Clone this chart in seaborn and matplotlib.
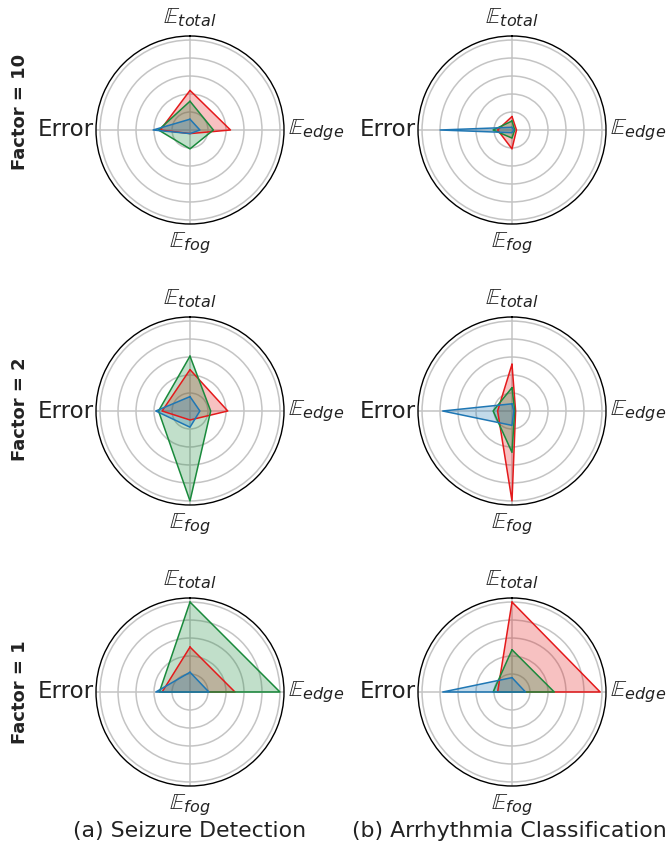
import numpy as np
import pandas as pd
import matplotlib
matplotlib.use("Agg")
import matplotlib.pyplot as plt
import seaborn as sns

sns.set_style("whitegrid")
plt.rcParams['font.family'] = ['DejaVu Sans']
plt.rcParams['mathtext.fontset'] = 'dejavusans'

# axis order, clockwise from the top
axis_labels = [r'$\mathbb{E}_{total}$', r'$\mathbb{E}_{edge}$', r'$\mathbb{E}_{fog}$', 'Error']
row_labels = ['Factor = 10', 'Factor = 2', 'Factor = 1']
col_titles = ['(a) Seizure Detection', '(b) Arrhythmia Classification']
series_colors = ['#e41a1c', '#1a8a3c', '#1f77b4']  # red, green, blue

# values per panel: [E_total, E_edge, E_fog, Error] for red, green, blue
seizure_f10 = [[0.44, 0.45, 0.04, 0.33],
               [0.32, 0.26, 0.21, 0.35],
               [0.12, 0.11, 0.04, 0.41]]
seizure_f2 = [[0.46, 0.42, 0.10, 0.31],
              [0.61, 0.23, 1.00, 0.35],
              [0.16, 0.11, 0.18, 0.38]]
seizure_f1 = [[0.50, 0.50, 0.00, 0.31],
              [1.00, 1.00, 0.00, 0.34],
              [0.22, 0.21, 0.00, 0.38]]
arrhythmia_f10 = [[0.15, 0.05, 0.21, 0.16],
                  [0.10, 0.03, 0.09, 0.21],
                  [0.03, 0.02, 0.03, 0.80]]
arrhythmia_f2 = [[0.52, 0.04, 1.00, 0.16],
                 [0.26, 0.03, 0.46, 0.21],
                 [0.08, 0.02, 0.16, 0.77]]
arrhythmia_f1 = [[1.00, 0.98, 0.00, 0.16],
                 [0.47, 0.47, 0.00, 0.21],
                 [0.16, 0.15, 0.00, 0.77]]

panels = [[seizure_f10, arrhythmia_f10],
          [seizure_f2, arrhythmia_f2],
          [seizure_f1, arrhythmia_f1]]

fig = plt.figure(figsize=(6.69, 8.48), dpi=100)

W, H = 669, 848
col_cx = [190, 512]
row_cy = [130, 411, 692]
row_label_y = [112, 409, 692]
rad = 94
# where each axis name sits, in radial units, and how it is anchored
label_r = [1.25, 1.085, 1.265, 1.065]
label_ha = ['center', 'left', 'center', 'right']

angles = np.linspace(0, 2 * np.pi, len(axis_labels), endpoint=False)
closed = np.append(angles, 2 * np.pi)

for i, row in enumerate(panels):
    for j, data in enumerate(row):
        left = (col_cx[j] - rad) / W
        bottom = 1 - (row_cy[i] + rad) / H
        ax = fig.add_axes([left, bottom, 2 * rad / W, 2 * rad / H], polar=True)
        ax.set_theta_offset(np.pi / 2)
        ax.set_theta_direction(-1)
        for vals, c in zip(data, series_colors):
            r = np.append(vals, vals[0])
            df = pd.DataFrame({'theta': closed, 'r': r})
            ax.fill(df['theta'], df['r'], color=c, alpha=0.27, linewidth=0)
            sns.lineplot(data=df, x='theta', y='r', sort=False, estimator=None,
                         color=c, linewidth=1.1, ax=ax)
        ax.set_xlabel('')
        ax.set_ylabel('')
        ax.set_ylim(0, 1.045)
        ax.set_yticks([0.2, 0.4, 0.6, 0.8, 1.0])
        ax.set_yticklabels(['0.2', '0.4', '0.6', '0.8', '1.0'], color='white', fontsize=8)
        ax.set_rlabel_position(22.5)
        ax.set_xticks(angles)
        ax.set_xticklabels([])
        for a, lab, lr, ha in zip(angles, axis_labels, label_r, label_ha):
            ax.text(a, lr, lab, fontsize=16.5, color='#222222', ha=ha, va='center')
        ax.grid(True, color='#c4c4c4', linewidth=1.1)
        ax.spines['polar'].set_color('black')
        ax.spines['polar'].set_linewidth(1.0)

for i, lab in enumerate(row_labels):
    fig.text(20 / W, 1 - row_label_y[i] / H, lab, rotation=90, fontsize=13,
             fontweight='bold', ha='center', va='center', color='#222222')

title_x = [190, 509]
for j, t in enumerate(col_titles):
    fig.text(title_x[j] / W, 1 - 831 / H, t, fontsize=15.8, ha='center', va='center',
             color='#222222')

fig.savefig('out.png', dpi=100)
